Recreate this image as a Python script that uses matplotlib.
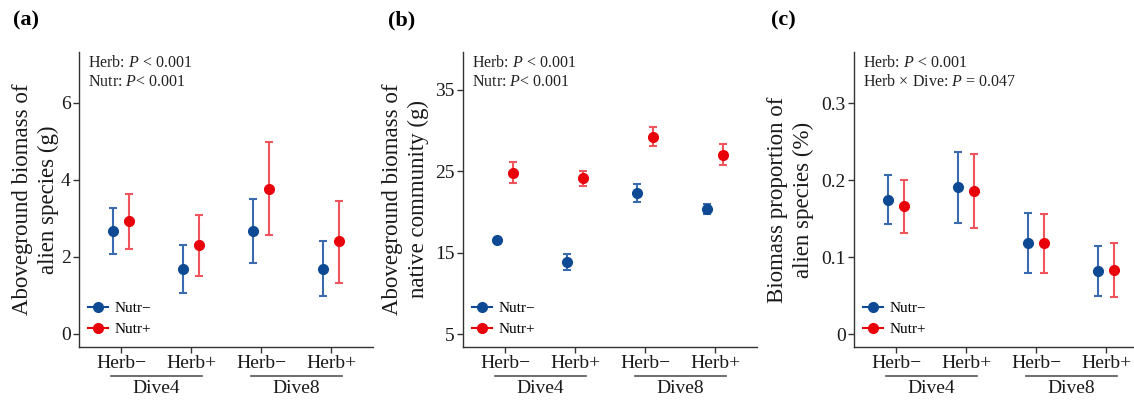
import numpy as np
import matplotlib.pyplot as plt
import matplotlib.transforms as mtransforms
from matplotlib.lines import Line2D

plt.rcParams['font.family'] = ['Liberation Serif', 'DejaVu Serif']
plt.rcParams['mathtext.fontset'] = 'custom'
plt.rcParams['mathtext.rm'] = 'Liberation Serif'
plt.rcParams['mathtext.it'] = 'Liberation Serif:italic'

groups = ['Herb−', 'Herb+', 'Herb−', 'Herb+']
dives = ['Dive4', 'Dive8']

# (a) aboveground biomass of alien species (g)
a_minus = [2.67, 1.69, 2.67, 1.69]
a_minus_lo = [2.08, 1.06, 1.83, 0.98]
a_minus_hi = [3.26, 2.30, 3.51, 2.42]
a_plus = [2.92, 2.30, 3.77, 2.40]
a_plus_lo = [2.20, 1.51, 2.57, 1.33]
a_plus_hi = [3.63, 3.09, 4.98, 3.46]

# (b) aboveground biomass of native community (g)
b_minus = [16.5, 13.8, 22.3, 20.4]
b_minus_lo = [16.2, 12.85, 21.2, 19.8]
b_minus_hi = [16.8, 14.8, 23.4, 20.95]
b_plus = [24.75, 24.1, 29.2, 27.0]
b_plus_lo = [23.5, 23.2, 28.1, 25.7]
b_plus_hi = [26.1, 25.0, 30.4, 28.3]

# (c) biomass proportion of alien species
c_minus = [0.175, 0.191, 0.119, 0.082]
c_minus_lo = [0.143, 0.145, 0.080, 0.050]
c_minus_hi = [0.207, 0.237, 0.158, 0.115]
c_plus = [0.166, 0.186, 0.118, 0.0835]
c_plus_lo = [0.132, 0.138, 0.080, 0.049]
c_plus_hi = [0.200, 0.234, 0.156, 0.118]

blue, blue_err = '#0E4A93', '#3A6BAE'
red, red_err = '#E8000B', '#F0545C'
serif = ['Liberation Serif', 'DejaVu Serif']

W, H = 1134, 401
fig = plt.figure(figsize=(W / 100, H / 100), dpi=100)

panels = [
    dict(left=79, lab='(a)', labx=13,
         ylabel='Aboveground biomass of\nalien species (g)', ylabx=-0.068,
         ylim=(-0.34, 7.32), yticks=[0, 2, 4, 6],
         note=['Herb: $P$ < 0.001', 'Nutr: $P$< 0.001'],
         m=(a_minus, a_minus_lo, a_minus_hi), p=(a_plus, a_plus_lo, a_plus_hi)),
    dict(left=463, lab='(b)', labx=388,
         ylabel='Aboveground biomass of\nnative community (g)', ylabx=-0.115,
         ylim=(3.44, 39.6), yticks=[5, 15, 25, 35],
         note=['Herb: $P$ < 0.001', 'Nutr: $P$< 0.001'],
         m=(b_minus, b_minus_lo, b_minus_hi), p=(b_plus, b_plus_lo, b_plus_hi)),
    dict(left=854, lab='(c)', labx=771,
         ylabel='Biomass proportion of\nalien species (%)', ylabx=-0.135,
         ylim=(-0.0165, 0.3666), yticks=[0, 0.1, 0.2, 0.3],
         note=['Herb: $P$ < 0.001', 'Herb × Dive: $P$ = 0.047'],
         m=(c_minus, c_minus_lo, c_minus_hi), p=(c_plus, c_plus_lo, c_plus_hi)),
]

x = np.arange(1, 5)
dodge = 0.115
ax_w, top, bottom = 294, 52, 347

for pn in panels:
    ax = fig.add_axes([pn['left'] / W, 1 - bottom / H, ax_w / W, (bottom - top) / H])
    for (mean, lo, hi), col, ecol, dx in [(pn['m'], blue, blue_err, -dodge),
                                          (pn['p'], red, red_err, dodge)]:
        mean, lo, hi = np.array(mean), np.array(lo), np.array(hi)
        ax.errorbar(x + dx, mean, yerr=[mean - lo, hi - mean], fmt='none',
                    ecolor=ecol, elinewidth=1.5, capsize=3, capthick=1.5, zorder=2)
        ax.plot(x + dx, mean, 'o', color=col, markersize=7, zorder=3)
    ax.set_xlim(0.4, 4.6)
    ax.set_ylim(*pn['ylim'])
    ax.set_yticks(pn['yticks'])
    ax.set_yticklabels([f'{v:g}' for v in pn['yticks']])
    ax.set_xticks(x)
    ax.set_xticklabels(groups)
    for s in ['top', 'right']:
        ax.spines[s].set_visible(False)
    for s in ['left', 'bottom']:
        ax.spines[s].set_color('#333333')
        ax.spines[s].set_linewidth(1.0)
    ax.tick_params(axis='both', length=4, width=1.0, color='#333333',
                   labelsize=14, labelcolor='#1a1a1a', pad=2)
    ax.set_ylabel(pn['ylabel'], fontsize=16.5, color='#1a1a1a', linespacing=1.3)
    ax.yaxis.set_label_coords(pn['ylabx'], 0.5)

    ax.text(0.03, 0.962, pn['note'][0], transform=ax.transAxes, fontsize=11.5,
            va='center', ha='left', color='#222222')
    ax.text(0.03, 0.897, pn['note'][1], transform=ax.transAxes, fontsize=11.5,
            va='center', ha='left', color='#222222')

    trans = mtransforms.blended_transform_factory(ax.transData, ax.transAxes)
    for i, d in enumerate(dives):
        c = 1.5 + 2 * i
        ax.plot([c - 0.65, c + 0.65], [-0.098, -0.098], color='#555555', lw=1.2,
                transform=trans, clip_on=False)
        ax.text(c, -0.14, d, transform=trans, ha='center', va='center',
                fontsize=14, color='#1a1a1a', family=serif)

    handles = [Line2D([], [], color=blue, marker='o', markersize=7, lw=1.5),
               Line2D([], [], color=red, marker='o', markersize=7, lw=1.5)]
    ax.legend(handles, ['Nutr−', 'Nutr+'], loc='lower left', frameon=False,
              fontsize=11, handlelength=1.3, handletextpad=0.4, labelspacing=0.5,
              bbox_to_anchor=(0.0, 0.005), borderaxespad=0.2)

    fig.text(pn['labx'] / W, 1 - 20 / H, pn['lab'], fontsize=16, fontweight='bold',
             va='center', ha='left')

fig.savefig('out.png', dpi=100)
